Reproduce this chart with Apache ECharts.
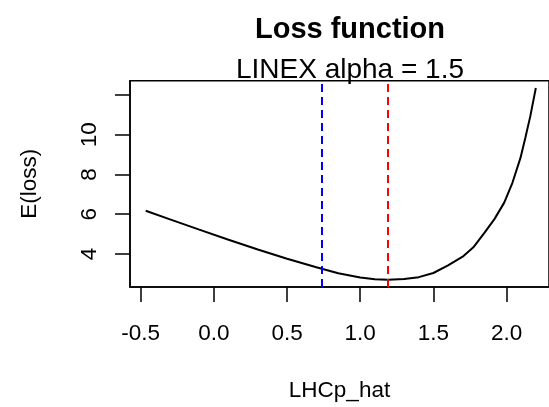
<!DOCTYPE html>
<html>
<head>
<meta charset="utf-8">
<script src="https://cdn.jsdelivr.net/npm/echarts@6/dist/echarts.min.js"></script>
<style>
html,body{margin:0;padding:0;background:#fff;}
#chart{width:549px;height:407px;}
</style>
</head>
<body>
<div id="chart"></div>
<script>
// ---- data ----
const titleText = 'Loss function';
const subtitleText = 'LINEX alpha = 1.5';
const xName = 'LHCp_hat';
const yName = 'E(loss)';

const lossX = [-0.466, -0.3, -0.1, 0.1, 0.3, 0.5, 0.7, 0.85, 1.0, 1.1, 1.19, 1.3, 1.4, 1.5, 1.6, 1.7, 1.773, 1.851, 1.917, 1.984, 2.04, 2.095, 2.128, 2.162, 2.184, 2.2];
const lossY = [6.17, 5.74, 5.22, 4.71, 4.22, 3.76, 3.33, 3.03, 2.81, 2.72, 2.70, 2.74, 2.83, 3.04, 3.42, 3.86, 4.33, 5.08, 5.75, 6.58, 7.58, 8.83, 9.83, 10.92, 11.75, 12.35];

const blueLineX = 0.742;
const redLineX = 1.191;

const xTicks = [-0.5, 0.0, 0.5, 1.0, 1.5, 2.0];
const yTicks = [4, 6, 8, 10, 12];
const yTickLabels = [4, 6, 8, 10];

const xRange = [-0.5734, 2.29];
const yRange = [2.335, 12.715];

// ---- chart ----
const chart = echarts.init(document.getElementById('chart'), null, {renderer: 'canvas'});
const font = 'Liberation Sans';
const axisCommon = {
  axisLine: {show: true, onZero: false, lineStyle: {color: '#000', width: 1.5}},
  splitLine: {show: false},
};

chart.setOption({
  animation: false,
  backgroundColor: '#fff',
  title: {
    text: titleText,
    subtext: subtitleText,
    left: 345,
    top: 10,
    textAlign: 'center',
    itemGap: 12,
    textStyle: {fontFamily: font, fontSize: 29, fontWeight: 'bold', color: '#000'},
    subtextStyle: {fontFamily: font, fontSize: 28, fontWeight: 'normal', color: '#000'}
  },
  grid: {
    left: 130, top: 80.7, height: 207.6, width: 429.2,
    show: true, borderColor: '#000', borderWidth: 1.5, backgroundColor: 'transparent'
  },
  xAxis: Object.assign({}, axisCommon, {
    type: 'value',
    min: xRange[0], max: xRange[1],
    name: xName,
    nameLocation: 'middle',
    nameGap: 92,
    nameTextStyle: {fontFamily: font, fontSize: 22.5, color: '#000'},
    axisTick: {show: true, inside: false, length: 15, customValues: xTicks, lineStyle: {color: '#000', width: 1.5}},
    axisLabel: {show: true, margin: 35, customValues: xTicks, fontFamily: font, fontSize: 22.5, color: '#000',
      formatter: v => v.toFixed(1)}
  }),
  yAxis: Object.assign({}, axisCommon, {
    type: 'value',
    min: yRange[0], max: yRange[1],
    name: yName,
    nameLocation: 'middle',
    nameGap: 89,
    nameRotate: 90,
    nameTextStyle: {fontFamily: font, fontSize: 22.5, color: '#000'},
    axisTick: {show: true, inside: false, length: 15, customValues: yTicks, lineStyle: {color: '#000', width: 1.5}},
    axisLabel: {show: true, margin: 29, rotate: 90, customValues: yTickLabels, fontFamily: font, fontSize: 22.5, color: '#000',
      formatter: v => String(v)}
  }),
  series: [{
    type: 'line',
    data: lossX.map((x, i) => [x, lossY[i]]),
    showSymbol: false,
    smooth: false,
    lineStyle: {color: '#000', width: 2},
    silent: true,
    markLine: {
      silent: true,
      symbol: ['none', 'none'],
      label: {show: false},
      data: [
        {xAxis: blueLineX, lineStyle: {color: '#0000FF', type: [8, 5], width: 2}},
        {xAxis: redLineX, lineStyle: {color: '#FF0000', type: [8, 5], width: 2}}
      ]
    }
  }]
});
</script>
</body>
</html>
